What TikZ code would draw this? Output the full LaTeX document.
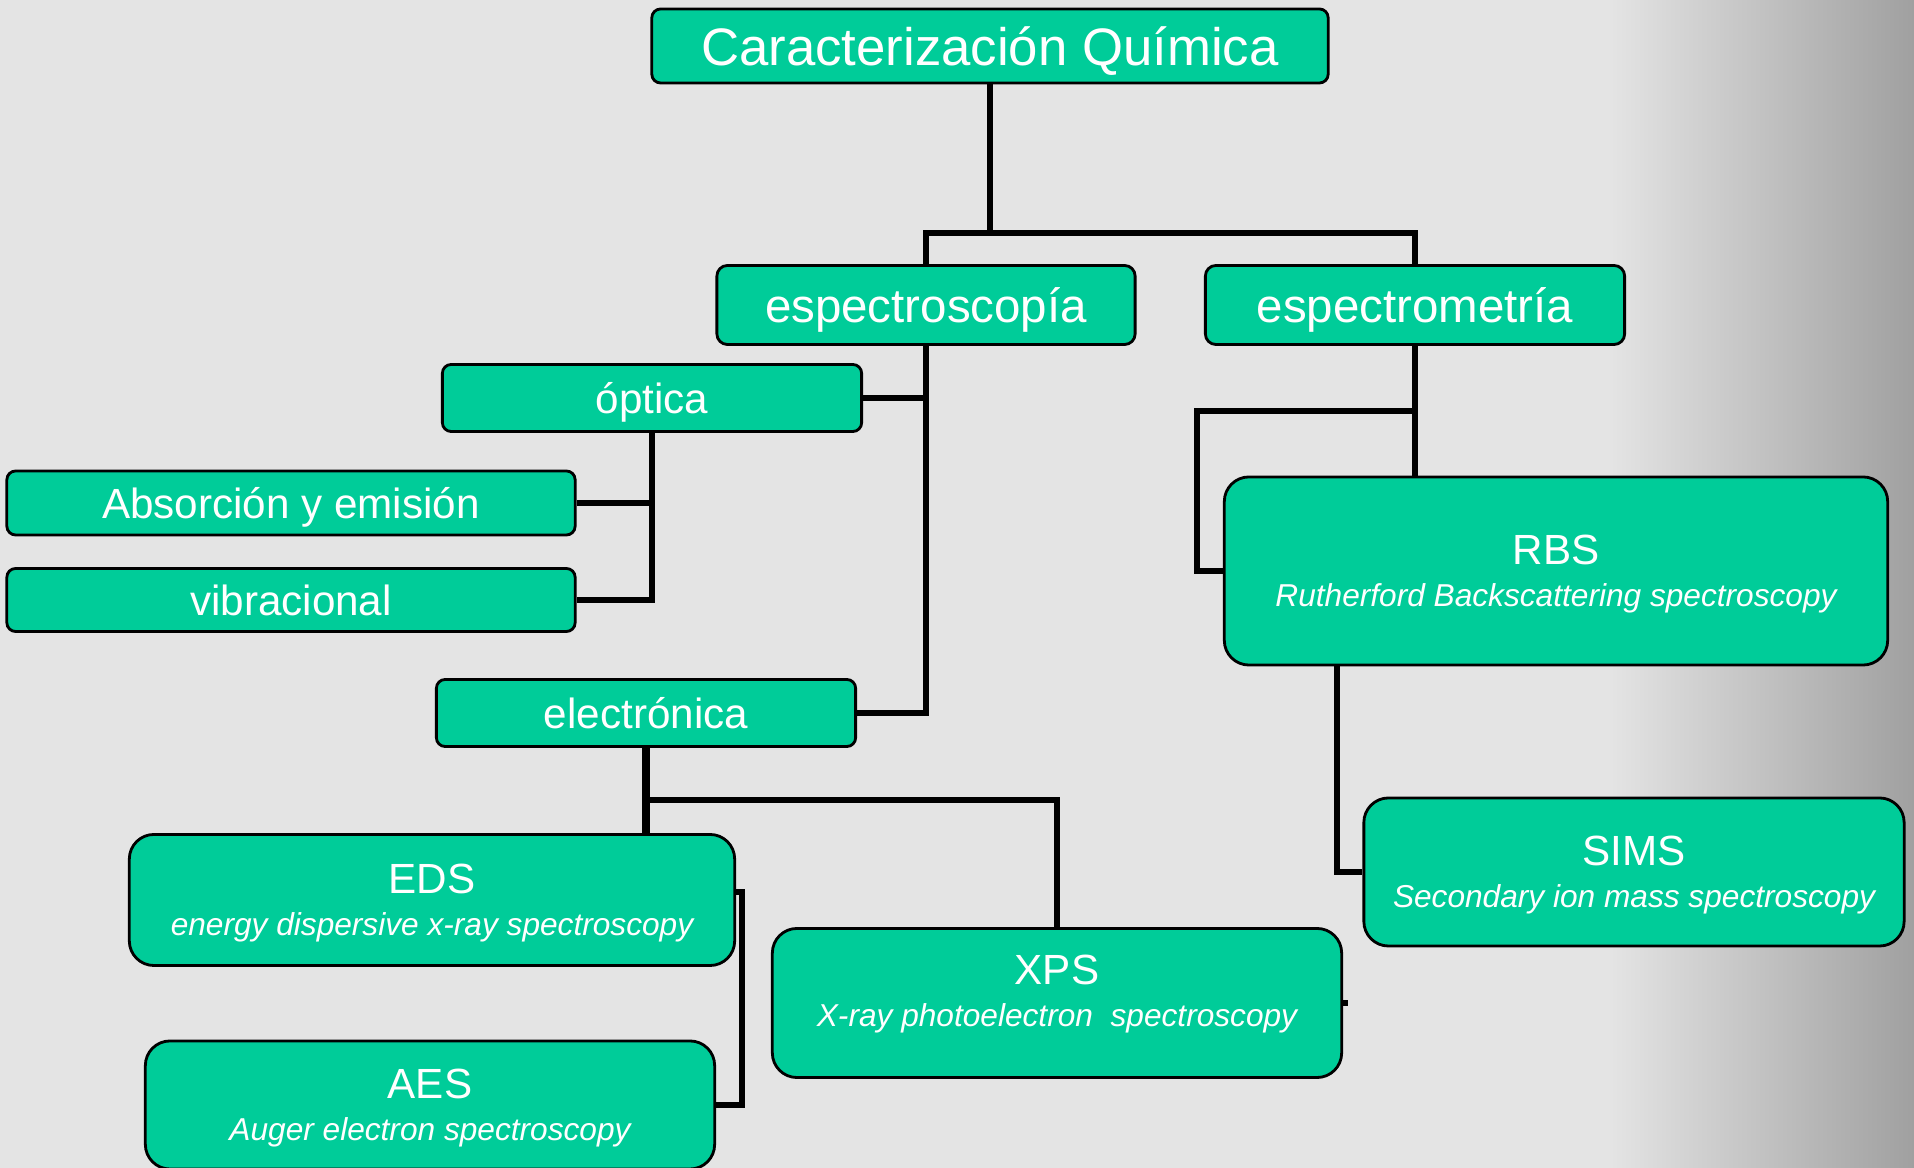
\documentclass[tikz,border=0pt]{standalone}
\usepackage{fontspec}
\setmainfont{Liberation Sans}
\usetikzlibrary{positioning, calc}
\definecolor{boxfill}{HTML}{00CC99}
\definecolor{paper}{HTML}{E4E4E4}
\definecolor{shadow}{HTML}{A0A0A0}
\newcommand{\techdesc}[1]{{\fontsize{9}{11}\selectfont\itshape #1}}

\begin{document}
\begin{tikzpicture}[x=0.01cm, y=-0.01cm,
    box/.style={draw, line width=0.8pt, fill=boxfill, text=white, align=center, inner sep=0pt, text depth=0pt},
    big/.style={font=\fontsize{15}{18}\selectfont, rounded corners=2.5pt},
    mid/.style={font=\fontsize{13.5}{16}\selectfont, rounded corners=3pt},
    small/.style={font=\fontsize{12}{12.5}\selectfont, rounded corners=2.5pt},
    wide/.style={font=\fontsize{12}{12.5}\selectfont, rounded corners=7pt},
    link/.style={line width=1.5pt},
]

% Background
\fill[paper] (0,0) rectangle (1914,1168);
\shade[left color=paper, right color=shadow] (1610,0) rectangle (1914,1168);
\useasboundingbox (0,0) rectangle (1914,1168);

% Top levels
\node[box, big, minimum width=6.76cm, minimum height=0.74cm] (title) at (990,46) {Caracterización Química};
\node[box, mid, minimum width=4.18cm, minimum height=0.79cm] (scopia) at (926,305) {espectroscopía};
\node[box, mid, minimum width=4.19cm, minimum height=0.79cm] (metria) at (1415,305) {espectrometría};

% Spectroscopy branch
\node[box, small, minimum width=4.19cm, minimum height=0.67cm] (optica) at (652,398) {óptica};
\node[box, small, minimum width=5.68cm, minimum height=0.64cm] (absorcion) at (291,503) {Absorción y emisión};
\node[box, small, minimum width=5.68cm, minimum height=0.63cm] (vibracional) at (291,600) {vibracional};
\node[box, small, minimum width=4.19cm, minimum height=0.67cm] (electronica) at (646,713) {electrónica};

\node[box, wide, minimum width=6.05cm, minimum height=1.31cm] (eds) at (432,900) {EDS\\[-0.7pt]\techdesc{energy dispersive x-ray spectroscopy}};
\node[box, wide, minimum width=5.69cm, minimum height=1.28cm] (aes) at (430,1105) {AES\\[-0.7pt]\techdesc{Auger electron spectroscopy}};
\node[box, wide, minimum width=5.69cm, minimum height=1.49cm, text depth=0.24cm] (xps) at (1057,1003) {XPS\\[-0.7pt]\techdesc{X-ray photoelectron~ spectroscopy}};

% Spectrometry branch
\node[box, wide, minimum width=6.63cm, minimum height=1.88cm] (rbs) at (1556,571) {RBS\\[-0.7pt]\techdesc{Rutherford Backscattering spectroscopy}};
\node[box, wide, minimum width=5.40cm, minimum height=1.48cm] (sims) at (1634,872) {SIMS\\[-0.7pt]\techdesc{Secondary ion mass spectroscopy}};

% Connectors
\coordinate (topbus) at (990,233);
\draw[link] (title.south) -- (topbus);
\draw[link] (scopia.north) |- (topbus) -| (metria.north);

\draw[link] (scopia.south) |- (electronica.east);
\draw[link] (optica.east) -| (scopia.south);

\draw[link] (optica.south) |- (vibracional.east);
\draw[link] (absorcion.east) -| (optica.south);

\coordinate (ebus) at ($(electronica.south)+(0,52)$);
\draw[line width=2.4pt] (electronica.south) -- (electronica.south |- eds.north);
\draw[link] (ebus) -| (xps.north);

\coordinate (edsr) at (742,892);
\draw[link] (eds.east |- edsr) -- (edsr) |- (aes.east);
\draw[link] (xps.east) -- ++(5,0);

\coordinate (rbsl) at (1197,411);
\draw[link] (metria.south) -- (metria.south |- rbs.north);
\draw[link] (metria.south |- rbsl) -- (rbsl) |- (rbs.west);

\draw[link] (rbs.south -| 1337,0) |- (sims.west);

\end{tikzpicture}
\end{document}
